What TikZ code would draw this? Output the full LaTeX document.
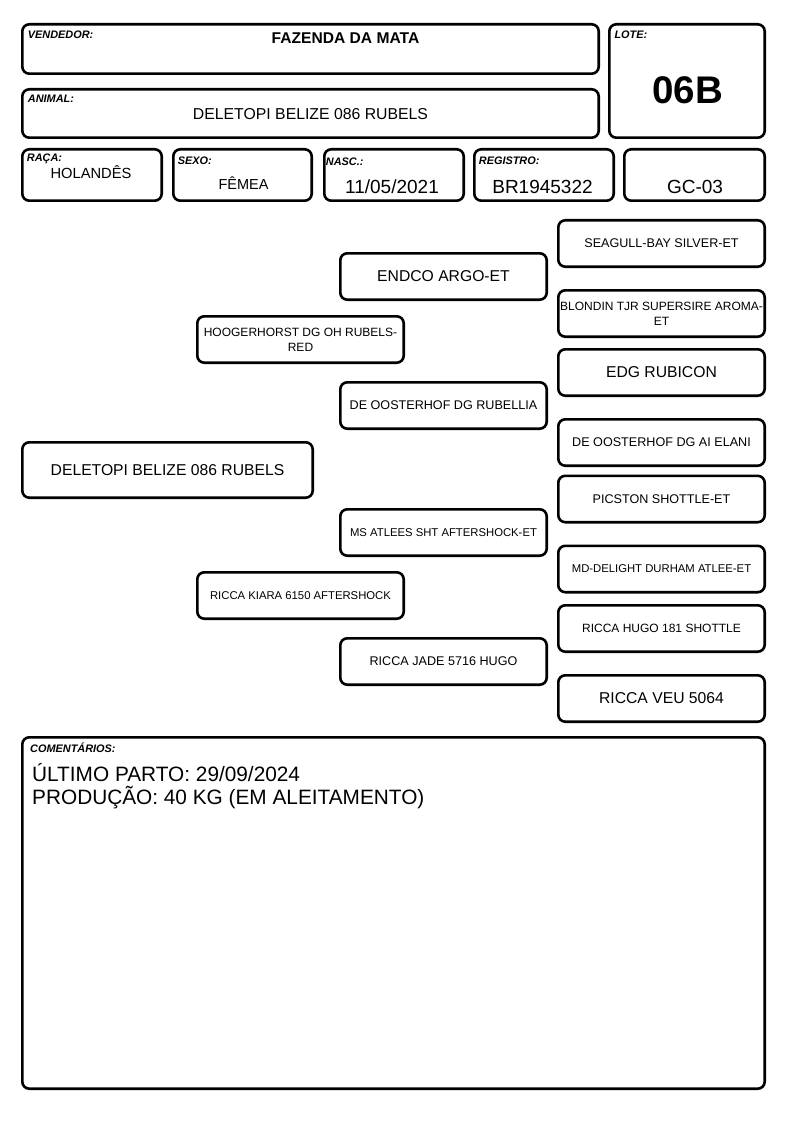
\documentclass[tikz,border=0pt]{standalone}
\usepackage{fontspec}
\setmainfont{Liberation Sans}
\usepackage{tikz}
\usetikzlibrary{positioning,calc}
\definecolor{ink}{RGB}{0,0,0}
\tikzstyle{cell} = [rectangle, rounded corners=7pt, draw=ink, line width=2.6pt,
                    fill=white, text=ink, inner sep=1pt, align=center]
\tikzstyle{tag} = [anchor=base west, inner sep=0pt, text=ink,
                   font=\fontsize{10.9}{12}\selectfont\bfseries\itshape]
\tikzstyle{val} = [anchor=base, inner sep=0pt, text=ink]
\tikzstyle{ped} = [cell, minimum width=206.4pt, minimum height=46.4pt]
\tikzstyle{namebig} = [font=\fontsize{15.7}{18}\selectfont]
\tikzstyle{namemid} = [font=\fontsize{12.6}{14.5}\selectfont]
\tikzstyle{namesmall} = [font=\fontsize{11.3}{13.5}\selectfont]
\tikzstyle{nametight} = [font=\fontsize{12}{15}\selectfont]

\begin{document}
\begin{tikzpicture}[x=1pt, y=-1pt]
    \useasboundingbox (0,0) rectangle (794,1123);

    % Header boxes
    \node[cell, minimum width=576.4pt, minimum height=49.4pt] (vendedor) at (310.5,49) {};
    \node[cell, minimum width=576.4pt, minimum height=48.4pt] (animal) at (310.5,113.5) {};
    \node[cell, minimum width=155.4pt, minimum height=113.4pt] (lote) at (687,81) {};
    \node[cell, minimum width=139.4pt, minimum height=51.4pt] (raca) at (92,175) {};
    \node[cell, minimum width=138.4pt, minimum height=51.4pt] (sexo) at (242.5,175) {};
    \node[cell, minimum width=139.4pt, minimum height=51.4pt] (nasc) at (394,175) {};
    \node[cell, minimum width=139.4pt, minimum height=51.4pt] (registro) at (544,175) {};
    \node[cell, minimum width=140.4pt, minimum height=51.4pt] (gc) at (694.5,175) {};

    % Header labels
    \node[tag] (vendedortag) at (27.7,39) {VENDEDOR:};
    \node[tag] (animaltag) at (27.7,103) {ANIMAL:};
    \node[tag] (lotetag) at (614.3,38.5) {LOTE:};
    \node[tag] (racatag) at (26.7,161.5) {RAÇA:};
    \node[tag] (sexotag) at (177.7,165) {SEXO:};
    \node[tag] (nasctag) at (325.7,165.5) {NASC.:};
    \node[tag] (registrotag) at (478.7,165) {REGISTRO:};

    % Header values
    \node[val, font=\fontsize{15.6}{18}\selectfont\bfseries] (vendedorval) at (345.5,43.3) {FAZENDA DA MATA};
    \node[val, font=\fontsize{15.8}{18}\selectfont] (animalval) at (310.5,119.3) {DELETOPI BELIZE 086 RUBELS};
    \node[val, font=\fontsize{38.5}{40}\selectfont\bfseries] (loteval) at (687.5,104) {06B};
    \node[val, font=\fontsize{14.7}{17}\selectfont] (racaval) at (91,178.3) {HOLANDÊS};
    \node[val, font=\fontsize{14.5}{17}\selectfont] (sexoval) at (243.5,190) {FÊMEA};
    \node[val, font=\fontsize{19}{22}\selectfont] (nascval) at (392,193.3) {11/05/2021};
    \node[val, font=\fontsize{19}{22}\selectfont] (registroval) at (542.5,193.3) {BR1945322};
    \node[val, font=\fontsize{19}{22}\selectfont] (gcval) at (695,193.3) {GC-03};

    % Pedigree: animal
    \node[cell, namebig, minimum width=290.4pt, minimum height=55.4pt] (self) at (167.5,470) {DELETOPI BELIZE 086 RUBELS};

    % Pedigree: parents
    \node[ped, nametight] (sire) at (300.5,339.5) {HOOGERHORST DG OH RUBELS-\\RED};
    \node[ped, namesmall] (dam) at (300.5,595.5) {RICCA KIARA 6150 AFTERSHOCK};

    % Pedigree: grandparents
    \node[ped, namebig] (ss) at (443.5,276.5) {ENDCO ARGO-ET};
    \node[ped, namemid] (sd) at (443.5,405.5) {DE OOSTERHOF DG RUBELLIA};
    \node[ped, namesmall] (ds) at (443.5,532.5) {MS ATLEES SHT AFTERSHOCK-ET};
    \node[ped, namemid] (dd) at (443.5,661.5) {RICCA JADE 5716 HUGO};

    % Pedigree: great-grandparents
    \node[ped, namemid] (sss) at (661.5,243.5) {SEAGULL-BAY SILVER-ET};
    \node[ped, nametight] (ssd) at (661.5,313.5) {BLONDIN TJR SUPERSIRE AROMA-\\ET};
    \node[ped, namebig] (sds) at (661.5,372.5) {EDG RUBICON};
    \node[ped, namemid] (sdd) at (661.5,442.5) {DE OOSTERHOF DG AI ELANI};
    \node[ped, namemid] (dss) at (661.5,499) {PICSTON SHOTTLE-ET};
    \node[ped, namesmall] (dsd) at (661.5,569) {MD-DELIGHT DURHAM ATLEE-ET};
    \node[ped, nametight] (dds) at (661.5,628.5) {RICCA HUGO 181 SHOTTLE};
    \node[ped, namebig] (ddd) at (661.5,698.5) {RICCA VEU 5064};

    % Comments
    \node[cell, minimum width=742.4pt, minimum height=351.4pt] (comentarios) at (393.5,913) {};
    \node[tag] (comentariostag) at (30,752.5) {COMENTÁRIOS:};
    \node[val, anchor=base west, font=\fontsize{20.8}{23}\selectfont] (parto) at (32,781.7) {ÚLTIMO PARTO: 29/09/2024};
    \node[val, anchor=base west, font=\fontsize{20.8}{23}\selectfont] (producao) at (32,804.4) {PRODUÇÃO: 40 KG (EM ALEITAMENTO)};
\end{tikzpicture}
\end{document}
